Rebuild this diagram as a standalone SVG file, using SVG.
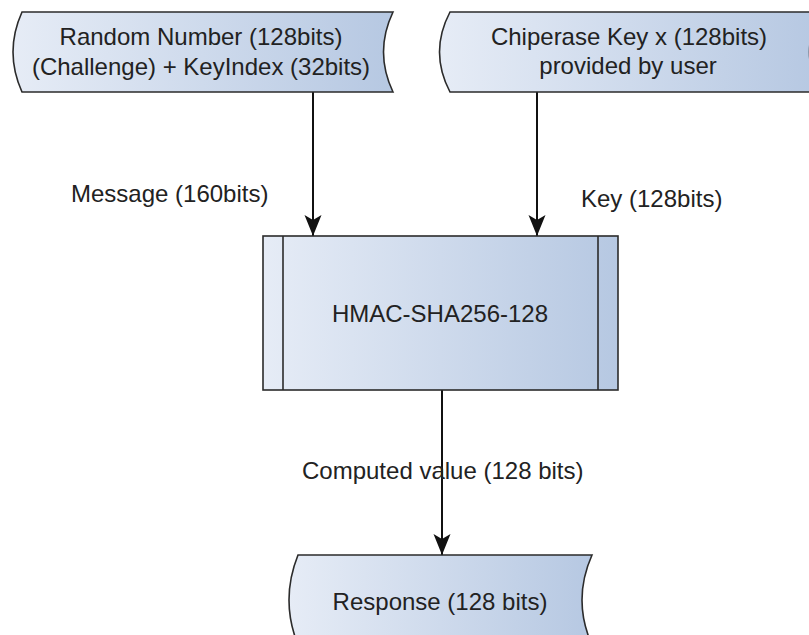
<svg xmlns="http://www.w3.org/2000/svg" width="809" height="635" viewBox="0 0 809 635">
<defs>
<linearGradient id="g" x1="0" y1="0" x2="1" y2="0">
<stop offset="0" stop-color="#e6ecf6"/>
<stop offset="1" stop-color="#b6c8e2"/>
</linearGradient>
<marker id="ah" viewBox="-1 -10 23 20" refX="21" refY="0" markerWidth="23" markerHeight="20" markerUnits="userSpaceOnUse" orient="auto">
<path d="M0,-8.5 L21,0 L0,8.5 L5,0 Z" fill="#111"/>
</marker>
<style>
.shape{fill:url(#g);stroke:#2b2b2b;stroke-width:1.6}
.t{font-family:"Liberation Sans",Arial,sans-serif;font-size:24px;fill:#222;text-anchor:middle}
.lbl{font-family:"Liberation Sans",Arial,sans-serif;font-size:24px;fill:#222}
.edge{stroke:#111;stroke-width:2;fill:none;marker-end:url(#ah)}
</style>
</defs>
<rect width="809" height="635" fill="#ffffff"/>
<g id="connectors">
<line class="edge" x1="313" y1="92" x2="313" y2="236"/>
<line class="edge" x1="537" y1="92" x2="537" y2="236"/>
<line class="edge" x1="442" y1="390" x2="442" y2="555"/>
</g>
<g id="random-number">
<path class="shape" d="M22,12 L393,12 Q374,52 393,92 L22,92 Q4,52 22,12 Z"/>
<text class="t" x="201" y="45">Random Number (128bits)</text>
<text class="t" x="201" y="75">(Challenge) + KeyIndex (32bits)</text>
</g>
<g id="chiperase-key">
<path class="shape" d="M450,12 L819,12 Q800,52 819,92 L450,92 Q429,52 450,12 Z"/>
<text class="t" x="629" y="45">Chiperase Key x (128bits)</text>
<text class="t" x="628" y="74">provided by user</text>
</g>
<g id="hmac">
<rect class="shape" x="263" y="236" width="355" height="154"/>
<line x1="283" y1="236" x2="283" y2="390" stroke="#2b2b2b" stroke-width="1.6"/>
<line x1="598" y1="236" x2="598" y2="390" stroke="#2b2b2b" stroke-width="1.6"/>
<text class="t" x="440" y="322">HMAC-SHA256-128</text>
</g>
<g id="response">
<path class="shape" d="M298,555 L592,555 Q572,600 592,645 L298,645 Q280,600 298,555 Z"/>
<text class="t" x="440" y="610">Response (128 bits)</text>
</g>
<g id="labels">
<text class="lbl" x="71" y="202">Message (160bits)</text>
<text class="lbl" x="581" y="207">Key (128bits)</text>
<text class="lbl" x="302" y="479">Computed value (128 bits)</text>
</g>
</svg>
